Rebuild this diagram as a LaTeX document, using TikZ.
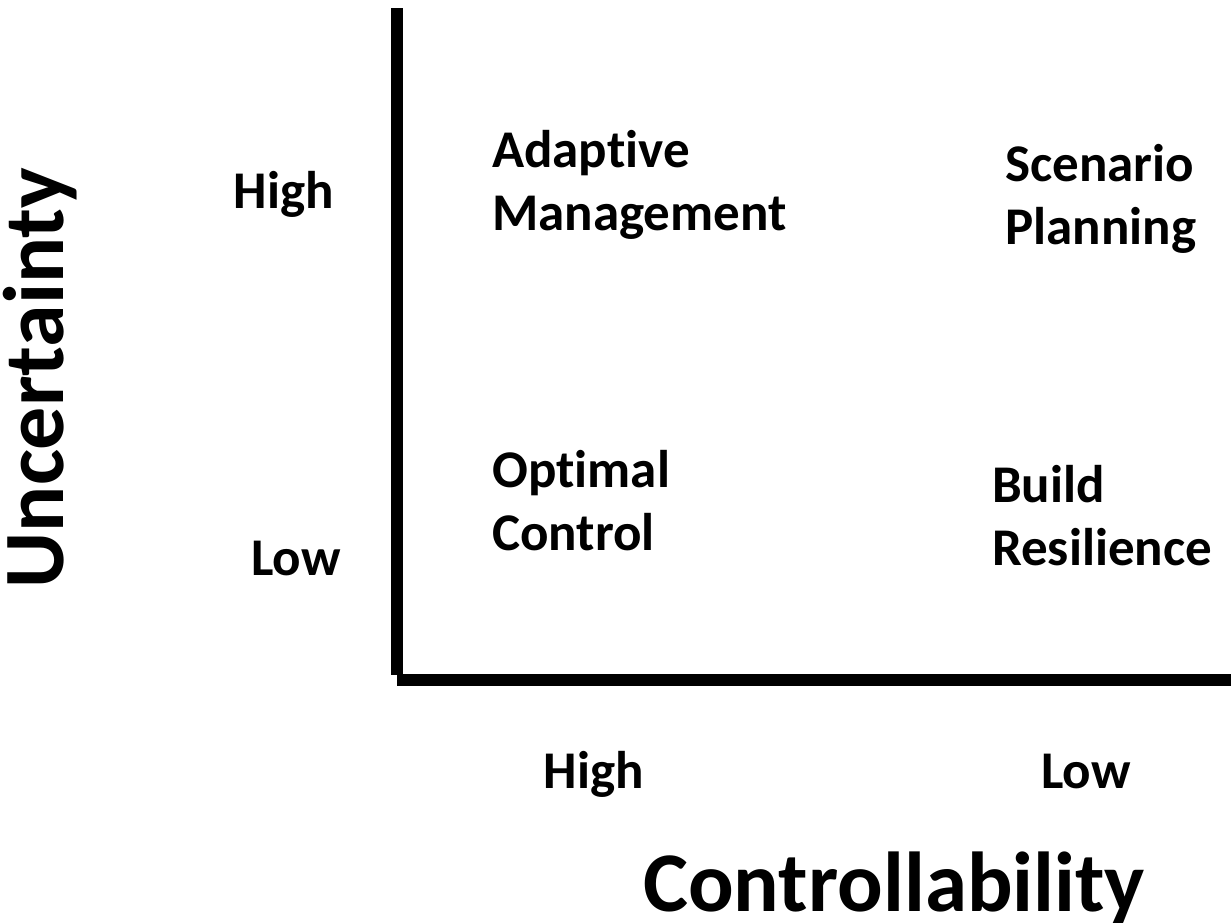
\documentclass[tikz,border=0pt]{standalone}
\usepackage{fontspec}
\setmainfont{Carlito}[Ligatures=NoCommon]
\usepackage{tikz}

\tikzset{
  axisline/.style={line width=12pt},
  quad/.style={anchor=base west,align=left,inner sep=0pt,font=\bfseries\fontsize{53}{63}\selectfont},
  tick/.style={anchor=base,inner sep=0pt,font=\bfseries\fontsize{53}{63}\selectfont},
  axistitle/.style={anchor=base,inner sep=0pt,font=\bfseries\fontsize{85}{90}\selectfont}
}

\begin{document}
\begin{tikzpicture}[x=1pt,y=-1pt]
\useasboundingbox (0,0) rectangle (1231,922);
% axes
\coordinate (top) at (397,8);
\coordinate (corner) at (397,675);
\coordinate (origin) at (397,680);
\coordinate (right) at (1231,680);
\draw[axisline] (top) -- (corner);
\draw[axisline] (origin) -- (right);
% axis titles
\node[axistitle,rotate=90,font=\bfseries\fontsize{86}{90}\selectfont] (uncert) at (63,378) {Uncertainty};
\node[axistitle] (ctrl) at (894,911) {Controllability};
% axis levels
\node[tick] (yhigh) at (284,208) {High};
\node[tick] (ylow) at (296,575) {Low};
\node[tick] (xhigh) at (594,788) {High};
\node[tick] (xlow) at (1086,788) {Low};
% quadrants (base = last line)
\node[quad] (adapt) at (492,230) {Adaptive\\Management};
\node[quad] (scen) at (1005,244) {Scenario\\Planning};
\node[quad] (optim) at (492,550) {Optimal\\Control};
\node[quad] (build) at (992,565) {Build\\Resilience};
\end{tikzpicture}
\end{document}
